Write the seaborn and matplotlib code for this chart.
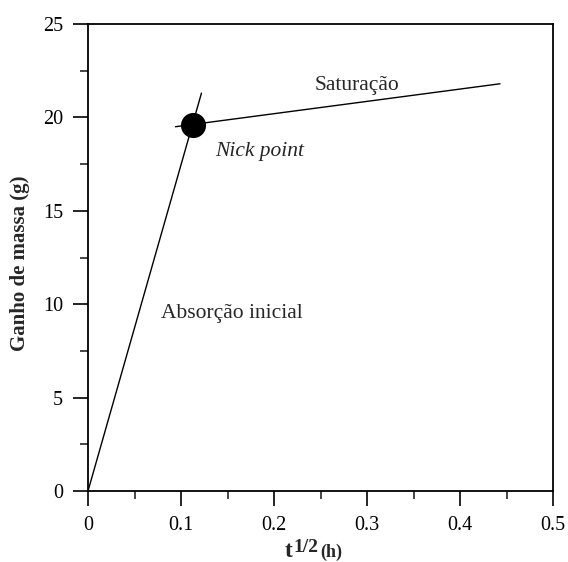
import numpy as np
import pandas as pd
import matplotlib
matplotlib.use("Agg")
import matplotlib.pyplot as plt
from matplotlib.ticker import MultipleLocator
import seaborn as sns

# data
abs_x = [0.0, 0.122]
abs_y = [0.0, 21.3]
sat_x = [0.094, 0.443]
sat_y = [19.5, 21.8]
nick_x = [0.1125]
nick_y = [19.6]

W, H = 568, 562

sns.set_theme(style="ticks")
plt.rcParams['font.family'] = ['Liberation Serif', 'DejaVu Serif']

fig = plt.figure(figsize=(W / 100, H / 100), dpi=100)
ax = fig.add_axes([88 / W, 1 - 491 / H, (553 - 88) / W, (491 - 24) / H])

sns.lineplot(x=abs_x, y=abs_y, color="black", linewidth=1.0, ax=ax)
sns.lineplot(x=sat_x, y=sat_y, color="black", linewidth=1.0, ax=ax)
sns.scatterplot(x=nick_x, y=nick_y, color="black", s=280, edgecolor="black", ax=ax, zorder=5)

ax.text(0.289, 21.7, "Saturação", fontsize=15.5, ha="center", va="center")
ax.text(0.185, 18.2, "Nick point", fontsize=15.5, style="italic", ha="center", va="center")
ax.text(0.155, 9.5, "Absorção inicial", fontsize=15.5, ha="center", va="center")

ax.set_xlim(0, 0.5)
ax.set_ylim(0, 25)
ax.xaxis.set_major_locator(MultipleLocator(0.1))
ax.xaxis.set_minor_locator(MultipleLocator(0.05))
ax.yaxis.set_major_locator(MultipleLocator(5))
ax.yaxis.set_minor_locator(MultipleLocator(2.5))
ax.set_xticks([0, 0.1, 0.2, 0.3, 0.4, 0.5])
ax.set_xticklabels(["0", "0.1", "0.2", "0.3", "0.4", "0.5"])

ax.tick_params(axis="both", which="major", direction="out", length=11, width=1.2,
               labelsize=14.5, pad=7, colors="black")
ax.tick_params(axis="both", which="minor", direction="out", length=6, width=1.2)
ax.tick_params(top=False, right=False, which="both")

for s in ax.spines.values():
    s.set_linewidth(1.3)
    s.set_color("black")
    s.set_visible(True)

# y label
fig.text(20 / W, 1 - 263 / H, "Ganho de massa (g)", fontsize=15, fontweight="bold",
         rotation=90, ha="center", va="center")

# x label: t^(1/2) (h), built from pieces
fig.text(285 / W, 1 - 557 / H, "t", fontsize=17, fontweight="bold", ha="left", va="baseline")
fig.text(293 / W, 1 - 552 / H, "1/2", fontsize=14, fontweight="bold", ha="left", va="baseline")
fig.text(320 / W, 1 - 557 / H, "(h)", fontsize=13, fontweight="bold", ha="left", va="baseline")

fig.savefig("out.png", dpi=100)
